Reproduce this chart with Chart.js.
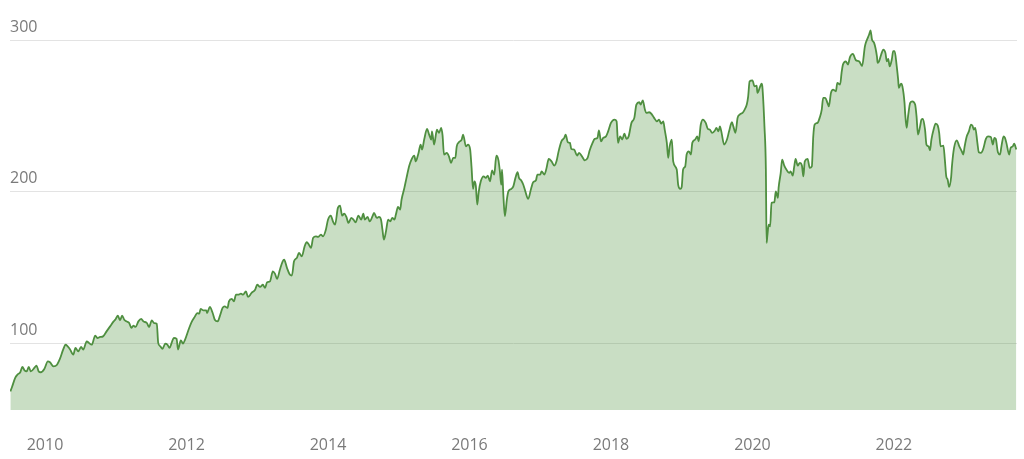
<!DOCTYPE html>
<html>
<head>
<meta charset="utf-8">
<script src="https://cdn.jsdelivr.net/npm/chart.js@4"></script>
<style>
  html, body { margin: 0; padding: 0; background: #ffffff; }
  #c { display: block; }
</style>
</head>
<body>
<canvas id="c" width="1024" height="459"></canvas>
<script>
// Decimal-year dates of the series
const dates = [
2009.51,2009.53,2009.58,2009.61,2009.65,2009.68,2009.71,2009.74,2009.77,2009.80,2009.86,2009.88,2009.91,2009.94,2009.99,
2010.04,2010.07,2010.12,2010.17,2010.21,2010.26,2010.29,2010.32,2010.35,2010.40,2010.43,2010.47,2010.51,2010.54,2010.59,2010.62,2010.66,2010.71,2010.74,2010.78,2010.82,2010.87,2010.92,2010.97,
2011.00,2011.03,2011.06,2011.09,2011.12,2011.15,2011.19,2011.22,2011.25,2011.28,2011.32,2011.36,2011.39,2011.44,2011.47,2011.51,2011.54,2011.58,2011.60,2011.63,2011.66,2011.70,2011.73,2011.76,2011.79,2011.82,2011.86,2011.88,2011.92,2011.95,2011.98,
2012.03,2012.07,2012.12,2012.15,2012.18,2012.20,2012.24,2012.28,2012.29,2012.33,2012.37,2012.40,2012.44,2012.47,2012.51,2012.54,2012.58,2012.60,2012.64,2012.67,2012.70,2012.73,2012.77,2012.80,2012.84,2012.87,2012.92,2012.97,
2013.00,2013.04,2013.08,2013.11,2013.14,2013.18,2013.22,2013.25,2013.28,2013.32,2013.36,2013.38,2013.42,2013.46,2013.49,2013.52,2013.56,2013.59,2013.63,2013.67,2013.70,2013.73,2013.76,2013.79,2013.83,2013.86,2013.90,2013.93,2013.97,
2014.00,2014.04,2014.07,2014.10,2014.14,2014.17,2014.20,2014.23,2014.26,2014.29,2014.33,2014.36,2014.39,2014.43,2014.47,2014.50,2014.52,2014.56,2014.59,2014.63,2014.65,2014.69,2014.72,2014.75,2014.77,2014.79,2014.82,2014.85,2014.88,2014.91,2014.94,2014.96,2014.99,
2015.02,2015.04,2015.08,2015.11,2015.15,2015.18,2015.22,2015.24,2015.28,2015.31,2015.33,2015.36,2015.40,2015.43,2015.46,2015.47,2015.50,2015.54,2015.57,2015.60,2015.62,2015.64,2015.68,2015.71,2015.74,2015.77,2015.80,2015.82,2015.85,2015.89,2015.91,2015.95,2015.98,
2016.01,2016.03,2016.05,2016.07,2016.09,2016.11,2016.13,2016.16,2016.20,2016.23,2016.26,2016.29,2016.32,2016.35,2016.38,2016.41,2016.43,2016.45,2016.46,2016.48,2016.50,2016.53,2016.55,2016.59,2016.62,2016.65,2016.68,2016.70,2016.73,2016.76,2016.79,2016.83,2016.87,2016.90,2016.94,2016.96,
2017.00,2017.02,2017.06,2017.09,2017.12,2017.16,2017.20,2017.23,2017.26,2017.30,2017.34,2017.36,2017.39,2017.42,2017.44,2017.48,2017.52,2017.55,2017.59,2017.63,2017.67,2017.70,2017.74,2017.77,2017.81,2017.83,2017.86,2017.89,2017.93,2017.96,
2018.00,2018.05,2018.08,2018.10,2018.13,2018.16,2018.19,2018.22,2018.25,2018.29,2018.33,2018.36,2018.40,2018.42,2018.45,2018.48,2018.50,2018.54,2018.58,2018.61,2018.65,2018.68,2018.71,2018.74,2018.76,2018.79,2018.81,2018.83,2018.86,2018.88,2018.93,2018.95,2018.98,
2019.00,2019.02,2019.05,2019.07,2019.10,2019.13,2019.15,2019.19,2019.22,2019.24,2019.27,2019.30,2019.34,2019.37,2019.40,2019.43,2019.47,2019.49,2019.52,2019.54,2019.56,2019.60,2019.64,2019.67,2019.71,2019.73,2019.76,2019.79,2019.82,2019.86,2019.89,2019.92,2019.94,2019.96,
2020.00,2020.03,2020.06,2020.07,2020.11,2020.13,2020.14,2020.17,2020.19,2020.20,2020.21,2020.23,2020.25,2020.27,2020.31,2020.33,2020.36,2020.37,2020.40,2020.42,2020.45,2020.48,2020.52,2020.54,2020.57,2020.59,2020.61,2020.64,2020.67,2020.70,2020.72,2020.74,2020.78,2020.81,2020.84,2020.86,2020.88,2020.92,2020.95,2020.98,
2021.00,2021.03,2021.06,2021.08,2021.11,2021.14,2021.18,2021.20,2021.24,2021.26,2021.28,2021.32,2021.35,2021.38,2021.42,2021.46,2021.51,2021.55,2021.59,2021.61,2021.65,2021.67,2021.69,2021.72,2021.76,2021.77,2021.79,2021.82,2021.85,2021.88,2021.90,2021.92,2021.94,2021.97,2021.99,
2022.01,2022.04,2022.06,2022.07,2022.10,2022.12,2022.15,2022.16,2022.18,2022.20,2022.23,2022.26,2022.30,2022.32,2022.34,2022.37,2022.39,2022.41,2022.44,2022.46,2022.49,2022.51,2022.53,2022.56,2022.59,2022.62,2022.64,2022.66,2022.70,2022.72,2022.74,2022.76,2022.78,2022.81,2022.82,2022.85,2022.89,2022.92,2022.96,2022.98,
2023.00,2023.03,2023.06,2023.09,2023.11,2023.13,2023.15,2023.18,2023.20,2023.23,2023.26,2023.30,2023.33,2023.37,2023.40,2023.42,2023.44,2023.47,2023.50,2023.52,2023.55,2023.57,2023.59,2023.63,2023.65,2023.68,2023.70,2023.73
];

// Series values
const values = [
68.3,70.7,77.4,79.3,80.9,84.4,82.2,81.5,84.4,81.5,84.4,85.3,81.5,80.9,83.1,
88.1,87.5,84.8,85.9,89.7,96.3,99.1,98,96.3,92.5,97,94.7,97.6,95.9,101.3,100.3,99.1,105.1,103.5,104.2,104.6,107.9,111.2,114.5,
116.1,118.3,115.2,118.3,115.6,114.5,113.4,110.2,111.7,110.8,114.5,116.1,114.5,113.4,110.8,115.2,113.4,113,100.3,98,96.3,99.8,99.1,97,100.3,103.6,102.9,95.9,102,99.8,102.5,
109.1,113.9,117.8,120,119.6,122.7,121.8,121.8,120,124,120,115.6,114.5,117.8,123.4,124.4,123.4,127.7,129.3,127.7,132.1,132.1,132.8,132.1,134.3,130.6,133.3,135.4,
138.7,137.2,138.7,136.6,140.3,140.9,147.5,146,142.5,148.6,154.1,155.2,149.8,145.4,144.7,154.1,156.4,159.7,157.4,164,166.7,165.1,163,169.6,170.6,170.2,171.8,170.6,175,
181.6,184.3,180.5,178.3,189.4,190.9,184.3,185.6,183.4,179.5,182.8,181.6,179.8,184.3,181.6,185.6,181.6,183.4,180.5,183.9,186.1,182.8,183.4,181.6,175,168.4,173.9,181.6,180.5,182.8,181.6,185,190,
188.3,194.9,202.6,209.2,217.3,221.3,223.9,220.1,225.7,231.2,227.9,234.5,241.5,237.8,234.5,239.9,231.2,241,238.9,242.2,237.1,224.6,225.7,223.4,219.1,222.4,222.4,230,232.7,234.5,237.8,230,231.2,
227.9,215.8,201.9,206.9,204,191.6,199.7,206.9,210.2,209.2,210.7,206.9,214.2,211.4,223.9,220.8,213.5,204.7,214.7,197.1,183.9,195.3,200.3,201.9,203.6,209.2,212.9,209.2,207.6,204.8,200.3,195.3,201.9,206.3,207.6,211.4,
211.4,213.5,211.4,215.8,221.7,220.1,217.3,220.1,226.7,233.3,235.6,237.8,232.7,232.3,228.3,227.9,223.9,225.7,223.4,220.8,222.4,227.4,232.3,234.9,235.6,240.6,233.3,235.6,236.6,239.9,
245.5,247.7,246.5,232.3,236.6,234.5,238.4,234.9,236.6,245.5,248.8,257.6,259.1,257.6,260.4,254.3,252.1,252.5,251,248.8,246.5,247.7,245,246.5,241,232.3,222.4,230,234.5,220.1,214.7,204.8,201.9,
203.2,214.7,216.8,224.6,226.7,224.6,232.3,234.5,236.6,233.3,244.4,247.7,245.5,241.5,241,238.9,240.5,242.2,239.9,243.2,239.9,231.2,234.5,239.9,245.9,243.2,238.9,248.8,251,252.1,254.3,257.6,263,272.9,
273.6,269.6,270.1,265.3,269.6,271.4,269.6,243.2,214.7,166.3,170.6,178.3,177.2,192.7,193.1,200.3,196,202.6,212.5,221.3,217.3,214.7,212.5,213.5,210.7,216.4,221.7,217.3,219.1,217.3,210.2,220.1,221.7,215.8,216.8,236.6,244.4,245.5,248.8,254.3,
262,262,258.7,256.4,265.3,267.5,266.3,271.9,270.8,278.5,284,286.1,284,289,291,287,286,283,296,299.3,303.8,306.6,300.5,298.3,289.4,285.1,286.1,290.6,293.9,291.7,286.1,287.7,282.8,287.3,292.8,
292.8,282.8,274,268.6,271.4,269.6,258.7,251,242.2,249.8,258.7,259.7,257.6,249.8,237.8,243.2,247.7,248.1,241,231.2,230,227.4,234.5,241,245,243.7,238.9,230,230.5,221.3,210.2,208,203.2,210.2,216.8,229,234,230.5,226.7,224.6,
230,236.6,239.9,244.4,243.7,241,242.2,232.3,226.1,225.7,227.9,234.9,236.6,236.2,231.2,235.6,234.9,226.1,224.6,230,236.6,235.6,232.3,224.6,229,230,231.8,227.9
];

// Tick labels
const xTicks = [2010, 2012, 2014, 2016, 2018, 2020, 2022];
const yTicks = [100, 200, 300];

const points = dates.map((d, i) => ({ x: d, y: values[i] }));

const labelColor = '#7a7a7a';
const labelFont = { family: "'Open Sans', 'DejaVu Sans', sans-serif", size: 16 };

new Chart(document.getElementById('c'), {
  type: 'line',
  data: {
    datasets: [{
      data: points,
      borderColor: '#4f8f40',
      borderWidth: 1.8,
      backgroundColor: 'rgba(76,145,60,0.3)',
      fill: 'start',
      pointRadius: 0,
      cubicInterpolationMode: 'monotone'
    }]
  },
  options: {
    responsive: false,
    animation: false,
    devicePixelRatio: 1,
    layout: { padding: { left: 10, right: 7, top: 10, bottom: 0 } },
    plugins: { legend: { display: false }, tooltip: { enabled: false } },
    scales: {
      x: {
        type: 'linear',
        min: 2009.505,
        max: 2023.74,
        grid: { display: false, drawTicks: false },
        border: { display: false },
        afterBuildTicks: (axis) => { axis.ticks = xTicks.map(v => ({ value: v })); },
        afterFit: (axis) => { axis.height = 49; },
        ticks: {
          color: labelColor,
          font: labelFont,
          padding: 26,
          maxRotation: 0,
          autoSkip: false,
          callback: (v) => String(v)
        }
      },
      y: {
        type: 'linear',
        min: 56,
        max: 320,
        grid: { color: '#e3e3e3', lineWidth: 1, drawTicks: false },
        border: { display: false },
        afterBuildTicks: (axis) => { axis.ticks = yTicks.map(v => ({ value: v })); },
        afterFit: (axis) => { axis.width = 0; },
        ticks: {
          mirror: true,
          padding: 0,
          labelOffset: -13,
          color: labelColor,
          font: labelFont,
          callback: (v) => String(v)
        }
      }
    }
  }
});
</script>
</body>
</html>
